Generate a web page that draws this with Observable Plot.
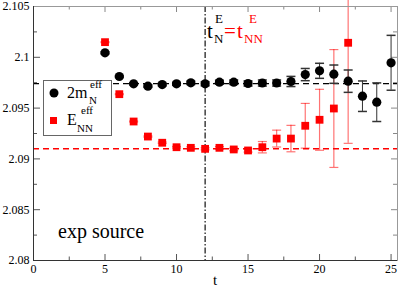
<!DOCTYPE html>
<html>
<head>
<meta charset="utf-8">
<script src="https://cdn.jsdelivr.net/npm/d3@7"></script>
<script src="https://cdn.jsdelivr.net/npm/@observablehq/plot@0.6"></script>
<style>
  body { margin: 0; background: white; }
  svg { display: block; }
</style>
</head>
<body>
<script>
// ---- data ----
const tN    = [5, 6, 7, 8, 9, 10, 11, 12, 13, 14, 15, 16, 17, 18, 19, 20, 21, 22, 23, 24, 25];
const mN    = [2.10044, 2.09811, 2.09739, 2.09716, 2.09732, 2.09739, 2.09749, 2.09739, 2.09755, 2.09755, 2.09742,
               2.09747, 2.09747, 2.09762, 2.0983, 2.09867, 2.09834, 2.09765, 2.09617, 2.09558, 2.09946];
const mNerr = [0.0001, 0.0001, 0.0001, 0.00012, 0.00013, 0.00015, 0.00017, 0.0002, 0.0002, 0.00022, 0.00025,
               0.0003, 0.0003, 0.0005, 0.0006, 0.00074, 0.0009, 0.0011, 0.0015, 0.0019, 0.0027];
const tNN    = [5, 6, 7, 8, 9, 10, 11, 12, 13, 14, 15, 16, 17, 18, 19, 20, 21, 22];
const eNN    = [2.10149, 2.09637, 2.09368, 2.0922, 2.09159, 2.09115, 2.09109, 2.09099, 2.09109, 2.09093, 2.09083,
                2.09115, 2.0920, 2.0920, 2.09326, 2.09385, 2.09496, 2.10143];
const eNNerr = [0.00005, 0.00005, 0.00005, 0.00006, 0.00007, 0.00008, 0.0001, 0.0001, 0.00012, 0.00013, 0.00016,
                0.00056, 0.00083, 0.0013, 0.0022, 0.003, 0.0058, 0.0099];
const plateauN = 2.0974;
const plateauNN = 2.0910;
const tCut = 12;
const xMajor = [0, 5, 10, 15, 20, 25];
const xMinor = [2.5, 7.5, 12.5, 17.5, 22.5];
const xTickLabels = ["0", "5", "10", "15", "20", "25"];
const yMajor = [2.08, 2.085, 2.09, 2.095, 2.1, 2.105];
const yMinor = [2.0825, 2.0875, 2.0925, 2.0975, 2.1025];
const yTickLabels = ["2.08", "2.085", "2.09", "2.095", "2.1", "2.105"];

const dataN = tN.map((t, i) => ({t, v: mN[i], e: mNerr[i]}));
const dataNN = tNN.map((t, i) => ({t, v: eNN[i], e: eNNerr[i]}));

const W = 399, H = 287, mL = 33, mR = 2, mT = 6, mB = 27;
const iW = W - mL - mR, iH = H - mT - mB;
const capSym = {draw(ctx) { ctx.moveTo(-4.5, 0); ctx.lineTo(4.5, 0); }};

const plot = Plot.plot({
  width: W, height: H,
  marginLeft: mL, marginRight: mR, marginTop: mT, marginBottom: mB,
  x: {domain: [0, 25.45]},
  y: {domain: [2.08, 2.105]},
  style: {fontFamily: "'Liberation Serif', 'DejaVu Serif', serif", fontSize: "12px", background: "white", color: "black"},
  marks: [
    // ticks (inward)
    Plot.tickX(xMajor, {x: d => d, insetTop: iH - 6, stroke: "#555"}),
    Plot.tickX(xMinor, {x: d => d, insetTop: iH - 3.5, stroke: "#555"}),
    Plot.tickX(xMajor, {x: d => d, insetBottom: iH - 6, stroke: "#888"}),
    Plot.tickX(xMinor, {x: d => d, insetBottom: iH - 3.5, stroke: "#888"}),
    Plot.tickY(yMajor, {y: d => d, insetRight: iW - 7, stroke: "#555"}),
    Plot.tickY(yMinor, {y: d => d, insetRight: iW - 4, stroke: "#555"}),
    Plot.tickY(yMajor, {y: d => d, insetLeft: iW - 6, stroke: "#888"}),
    Plot.tickY(yMinor, {y: d => d, insetLeft: iW - 4, stroke: "#888"}),
    Plot.axisX(xMajor, {tickSize: 0, tickPadding: 4, tickFormat: (d, i) => xTickLabels[i], fontSize: 12, label: null}),
    Plot.axisY(yMajor, {tickSize: 0, tickPadding: 4, tickFormat: (d, i) => yTickLabels[i], fontSize: 12, label: null}),
    // reference lines
    Plot.ruleY([plateauN], {stroke: "black", strokeWidth: 1.3, strokeDasharray: "6,4"}),
    Plot.ruleY([plateauNN], {stroke: "red", strokeWidth: 1.3, strokeDasharray: "6,4"}),
    Plot.ruleX([tCut], {stroke: "#222", strokeWidth: 1.3, strokeDasharray: "6,2,1.5,2"}),
    // error bars
    Plot.ruleX(dataNN, {x: "t", y1: d => d.v - d.e, y2: d => d.v + d.e, stroke: "red", strokeOpacity: 0.55, strokeWidth: 1.2}),
    Plot.dot(dataNN, {x: "t", y: d => d.v - d.e, symbol: capSym, stroke: "red", strokeOpacity: 0.55, fill: "none", strokeWidth: 1.2}),
    Plot.dot(dataNN, {x: "t", y: d => d.v + d.e, symbol: capSym, stroke: "red", strokeOpacity: 0.55, fill: "none", strokeWidth: 1.2}),
    Plot.ruleX(dataN, {x: "t", y1: d => d.v - d.e, y2: d => d.v + d.e, stroke: "#333", strokeWidth: 1}),
    Plot.dot(dataN, {x: "t", y: d => d.v - d.e, symbol: capSym, stroke: "#333", fill: "none"}),
    Plot.dot(dataN, {x: "t", y: d => d.v + d.e, symbol: capSym, stroke: "#333", fill: "none"}),
    // points
    Plot.dot(dataNN, {x: "t", y: "v", symbol: "square", r: 4.4, fill: "red", stroke: "none"}),
    Plot.dot(dataN, {x: "t", y: "v", r: 4.6, fill: "black", stroke: "none"}),
    // frame
    Plot.frame({stroke: "#999"}),
    Plot.ruleX([0], {stroke: "#333"}),
    Plot.ruleY([2.08], {stroke: "#333"})
  ]
});
document.body.appendChild(plot);

// ---- annotations ----
const svg = d3.select(plot);
const serif = "'Liberation Serif', 'DejaVu Serif', serif";
function txt(x, y, s, size, color) {
  svg.append("text").attr("x", x).attr("y", y).attr("font-family", serif)
    .attr("text-anchor", "start")
    .attr("font-size", size).attr("fill", color).text(s);
}
// x-axis title
svg.append("text").attr("x", mL + iW / 2).attr("y", 285).attr("text-anchor", "middle")
  .attr("font-family", serif).attr("font-size", 15).text("t");
// t_N^E = t_NN^E
txt(207, 38, "t", 21, "black");
txt(214, 43, "N", 13, "black");
txt(215, 23, "E", 13, "black");
txt(224, 38, "=", 21, "red");
txt(237, 38, "t", 21, "red");
txt(244, 43, "NN", 13, "red");
txt(249, 23, "E", 13, "red");
// exp source
txt(58, 238, "exp source", 20, "black");
// legend
svg.append("rect").attr("x", 43.5).attr("y", 80.5).attr("width", 68).attr("height", 55)
  .attr("fill", "white").attr("stroke", "#666").attr("stroke-width", 1);
svg.append("circle").attr("cx", 54).attr("cy", 93).attr("r", 4.5).attr("fill", "black");
svg.append("rect").attr("x", 50).attr("y", 117).attr("width", 7).attr("height", 7).attr("fill", "red");
txt(67, 98, "2m", 16, "black");
txt(89, 104, "N", 11, "black");
txt(90, 88, "eff", 11, "black");
txt(67, 125, "E", 16, "black");
txt(77, 132, "NN", 11, "black");
txt(81, 114, "eff", 11, "black");
</script>
</body>
</html>
